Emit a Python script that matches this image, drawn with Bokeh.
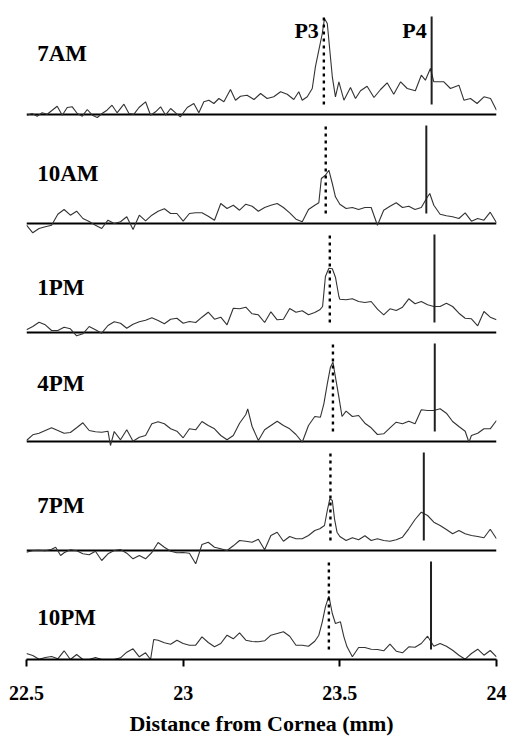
from bokeh.plotting import figure
from bokeh.models import ColumnDataSource, FixedTicker, NumeralTickFormatter, Range1d
from bokeh.core.properties import value
from bokeh.embed import file_html
from bokeh.resources import INLINE

# ---------------- data ----------------
TIMES = ["7AM", "10AM", "1PM", "4PM", "7PM", "10PM"]
P3_POS = [23.449, 23.455, 23.468, 23.478, 23.470, 23.465]
P4_POS = [23.793, 23.776, 23.802, 23.803, 23.768, 23.791]
PEAK_NAMES = ["P3", "P4"]
X_TICKS = [22.5, 23.0, 23.5, 24.0]

X_7AM = [22.502, 22.518, 22.534, 22.550, 22.566, 22.582, 22.598, 22.614, 22.630, 22.646,
         22.662, 22.678, 22.694, 22.710, 22.726, 22.741, 22.757, 22.773, 22.789, 22.811,
         22.827, 22.843, 22.859, 22.880, 22.896, 22.912, 22.928, 22.944, 22.960, 22.976,
         22.991, 23.013, 23.034, 23.050, 23.066, 23.082, 23.098, 23.114, 23.130, 23.151,
         23.167, 23.183, 23.204, 23.226, 23.247, 23.268, 23.289, 23.311, 23.332, 23.353,
         23.369, 23.380, 23.396, 23.412, 23.422, 23.433, 23.444, 23.451, 23.460, 23.468,
         23.476, 23.486, 23.497, 23.513, 23.534, 23.550, 23.566, 23.587, 23.609, 23.630,
         23.651, 23.672, 23.694, 23.715, 23.741, 23.760, 23.773, 23.789, 23.800, 23.832,
         23.853, 23.880, 23.896, 23.917, 23.938, 23.960, 23.981, 24.000]
Y_7AM = [-0.7, 1, -1.7, 1.7, 0.3, 4.3, 8.3, -0.7, 7, 7.7,
         1, -1.7, 5, -0.7, -3, 1, 4.3, 9.3, 1.7, 10.3,
         1, 0.3, 7, 12.7, -0.7, 2.7, 7.7, -0.7, 6, 1.7,
         -2.3, 7, 11, 1.7, 12.7, 14.3, 11, 16, 12.7, 25,
         14.3, 18.3, 19.3, 15, 21, 16, 17.7, 22.7, 20.3, 15,
         22.7, 14.3, 17.7, 26, 47.7, 64.3, 81, 96, 91, 64.3,
         37.7, 17.7, 32.7, 14.3, 27, 16, 23.7, 28.3, 17, 25,
         31.7, 20.3, 32.7, 26, 23.7, 39.3, 34.3, 46, 32.7, 32.7,
         26, 29.3, 14.3, 16, 11, 17.7, 16, 4.3]

X_10AM = [22.50, 22.52, 22.54, 22.56, 22.58, 22.60, 22.62, 22.64, 22.66, 22.68,
          22.70, 22.72, 22.74, 22.76, 22.78, 22.80, 22.82, 22.84, 22.86, 22.88,
          22.90, 22.92, 22.94, 22.96, 22.98, 23.00, 23.02, 23.04, 23.06, 23.08,
          23.10, 23.12, 23.14, 23.16, 23.18, 23.20, 23.22, 23.24, 23.26, 23.28,
          23.30, 23.32, 23.34, 23.36, 23.38, 23.40, 23.42,
          23.433, 23.441, 23.454, 23.465, 23.476, 23.486,
          23.50, 23.52, 23.54, 23.56, 23.58, 23.60, 23.62, 23.64, 23.66, 23.68,
          23.70, 23.72, 23.74, 23.76, 23.78, 23.787,
          23.80, 23.82, 23.84, 23.86, 23.88, 23.90, 23.92, 23.94, 23.96, 23.98, 24.00]
Y_10AM = [-1.7, -9.3, -5, -3.3, -1.7, 9.3, 14, 8.3, 12.3, 5,
          2, -1.7, -5, 3.3, 0, 1.7, 6.7, -6, 8.3, 2.7,
          8.3, 12.3, 14.7, 10, 10, 2.3, 10, 10.7, 10.7, 7.3,
          3.3, 20, 15, 18.3, 13.3, 19.3, 17.3, 12.3, 16, 18.3,
          20, 16, 10.7, 4.3, 1.7, 14, 18.3,
          20.7, 45, 48.3, 53.3, 40, 26.7,
          19.3, 15, 16, 14, 16, 16, -1.7, 13.3, 17.3, 20.7,
          16, 17.3, 14, 16, 26.7, 30,
          18.3, 9.3, 7.7, 6.7, 5, 10.7, 2.3, 5, 3.3, 11.3, 0.7]

X_1PM = [22.50, 22.52, 22.54, 22.56, 22.58, 22.60, 22.62, 22.64, 22.66, 22.68,
         22.70, 22.72, 22.74, 22.76, 22.78, 22.80, 22.82, 22.84, 22.86, 22.88,
         22.90, 22.92, 22.94, 22.96, 22.98, 23.00, 23.02, 23.04, 23.06, 23.08,
         23.10, 23.12, 23.14, 23.16, 23.18, 23.20, 23.22, 23.24, 23.26, 23.28,
         23.30, 23.32, 23.34, 23.36, 23.38, 23.40, 23.42,
         23.436, 23.445, 23.454, 23.465, 23.476, 23.486, 23.497,
         23.50, 23.52, 23.54, 23.56, 23.58, 23.60, 23.62, 23.64, 23.66, 23.68,
         23.70, 23.72, 23.74, 23.76, 23.78, 23.80, 23.82, 23.84, 23.86, 23.88,
         23.90, 23.92, 23.94, 23.96, 23.98, 24.00]
Y_1PM = [2.7, 6, 10.3, 7.7, 2, 2, 5.3, 3.7, -3.3, -1.3,
         6, 2.7, -0.7, 7, 10.7, 9.3, 4.3, 8.3, 10.7, 12.3,
         14.7, 12, 8.7, 13.3, 14.3, 9.3, 11, 10, 15.3, 20.3,
         13.3, 15.3, 7.7, 24.3, 23.7, 25.3, 18.7, 17.7, 10, 20.7,
         12.7, 13.3, 24, 20.3, 21.7, 17.7, 20,
         22.7, 26, 56, 64.3, 63.7, 55.3, 36,
         33.3, 32.7, 33.7, 31, 30, 31, 23.3, 17.7, 23.7, 22,
         25.3, 33.7, 28.7, 31, 27.7, 26, 26, 29.3, 26, 19.3,
         14.3, 13.7, 6.7, 21, 15.3, 12.7]

X_4PM = [22.50, 22.52, 22.54, 22.56, 22.58, 22.60, 22.62, 22.64, 22.66, 22.68,
         22.70, 22.72, 22.74, 22.76, 22.768, 22.78, 22.80, 22.82, 22.84, 22.86,
         22.88, 22.90, 22.92, 22.94, 22.96, 22.98, 23.00, 23.02, 23.04, 23.06,
         23.08, 23.10, 23.12, 23.14, 23.16, 23.18, 23.20, 23.206, 23.22, 23.24,
         23.26, 23.28, 23.30, 23.32, 23.34, 23.36, 23.38, 23.40, 23.42,
         23.438, 23.449, 23.460, 23.470, 23.478, 23.486, 23.497, 23.507,
         23.52, 23.54, 23.56, 23.58, 23.60, 23.62, 23.64, 23.66, 23.68, 23.70,
         23.72, 23.74, 23.76, 23.78, 23.80, 23.82, 23.84, 23.86, 23.88, 23.90,
         23.912, 23.92, 23.94, 23.96, 23.98, 24.00]
Y_4PM = [1, 6.7, 8.3, 11, 13.7, 11, 8.3, 9, 13.7, 18.7,
         11, 9.7, 9.3, 10.3, -4, 10, 1.7, 11.7, 0.3, 4.3,
         6, 17.7, 19.7, 17.7, 12.7, 10.3, 3.7, 12.7, 11.7, 20,
         16, 12.7, 6, 1.7, 6, 18.3, 27, 32.7, 15, 1,
         11.7, 16, 20.3, 16, 12.7, 7, -0.7, 16, 25,
         24.3, 37.7, 57.7, 74.3, 79.3, 64.3, 44.3, 25,
         30.3, 25, 26, 18.3, 13.7, 7, 7.7, 13.7, 19.3, 17.7,
         20.3, 17.7, 31.7, 31, 31, 32.7, 28.3, 20, 15, 10.3,
         -0.7, 6, 8.3, 12.7, 12.7, 21]

X_7PM = [22.50, 22.52, 22.54, 22.56, 22.58, 22.593, 22.609, 22.62, 22.64, 22.66,
         22.68, 22.70, 22.72, 22.74, 22.76, 22.78, 22.80, 22.82, 22.84, 22.86,
         22.88, 22.90, 22.92, 22.94, 22.96, 22.98, 23.00, 23.02, 23.04, 23.06,
         23.08, 23.10, 23.12, 23.14, 23.16, 23.18, 23.20, 23.22, 23.24, 23.26,
         23.28, 23.30, 23.32, 23.34, 23.36, 23.38, 23.40, 23.42,
         23.436, 23.451, 23.460, 23.468, 23.476, 23.483, 23.491,
         23.50, 23.52, 23.54, 23.56, 23.58, 23.60, 23.62, 23.64, 23.66, 23.68,
         23.70, 23.72, 23.74, 23.76, 23.78, 23.80, 23.82, 23.84, 23.86, 23.88,
         23.90, 23.92, 23.94, 23.96, 23.98, 24.00]
Y_7PM = [-1.7, 0, 0.3, -0.3, 1.3, 3.3, -5, -2.3, 0.7, -0.3,
         -3.3, -4.3, -0.7, -10, -3.3, 0, 1, -2.7, -8.3, -5,
         -8.3, -2, 8, 3.3, -0.7, -2.3, -2, -2.7, -13.3, 6,
         8.3, 3.3, 1.7, 0, 4.7, 10, 9.3, 8.3, 11.3, 0.7,
         15, 18.3, 9.3, 14, 11.7, 11.7, 15, 20,
         21.7, 25, 40, 51.7, 50, 31.7, 18.3,
         14, 10, 12.7, 10.7, 14.7, 10, 11.7, 10, 9.3, 10.7,
         13.3, 21.7, 31, 38.3, 35, 28.3, 25, 21, 16.7, 20,
         16.7, 15, 14, 12.7, 21.3, 11.7]

X_10PM = [22.50, 22.52, 22.54, 22.56, 22.58, 22.60, 22.62, 22.64, 22.66, 22.68,
          22.70, 22.72, 22.74, 22.76, 22.78, 22.80, 22.82, 22.84, 22.86, 22.88,
          22.896, 22.906, 22.92, 22.94, 22.96, 22.98, 23.00, 23.02, 23.04, 23.06,
          23.08, 23.10, 23.12, 23.14, 23.16, 23.18, 23.20, 23.22, 23.24, 23.26,
          23.28, 23.30, 23.32, 23.34, 23.36, 23.38, 23.40, 23.42,
          23.433, 23.444, 23.454, 23.465, 23.476, 23.486, 23.502, 23.513, 23.523,
          23.54, 23.56, 23.58, 23.60, 23.62, 23.64, 23.66, 23.68, 23.70, 23.72,
          23.74, 23.76, 23.78, 23.80, 23.82, 23.84, 23.86, 23.88, 23.90, 23.92,
          23.94, 23.96, 23.98, 24.00]
Y_10PM = [6, 4, 0.3, 2, 3, 0.7, 8.7, 0, 5, 0,
          0, 2, 0, 0, 0, 1.7, 7.3, 10.7, 2.7, 6.7,
          0, 20, 19.3, 16.7, 15.3, 19.3, 16, 14.3, 14.3, 22.7,
          17, 12.7, 16, 24.3, 20.7, 26.7, 19.3, 18, 17.7, 18.7,
          24.3, 26, 27.7, 23.3, 14.3, 14.3, 13.3, 18.3,
          24.3, 37.7, 52.7, 63.3, 46, 36, 37.7, 22.7, 12.7,
          2.7, 12, 12, 10.3, 10, 8.7, 15.3, 8.3, 6.7, 12.7,
          12.3, 16, 23.3, 13.3, 16, 13.3, 9.3, 4.3, 0.3, 6,
          10.3, 4.3, 9, 2.7]

TRACES_X = [X_7AM, X_10AM, X_1PM, X_4PM, X_7PM, X_10PM]
TRACES_Y = [Y_7AM, Y_10AM, Y_1PM, Y_4PM, Y_7PM, Y_10PM]

# ---------------- layout / style ----------------
STEP = 109.0                 # vertical spacing between stacked panels
LABEL_RAISE = [61, 50, 45, 58, 45, 42]
LINE_BOTTOM, LINE_TOP = 10, 98
PEAK_LABEL_RAISE = 84.5
FONT = value("Liberation Serif")
N = len(TIMES)
offsets = [(N - 1 - k) * STEP for k in range(N)]

p = figure(frame_width=470, frame_height=650, output_backend="svg",
           toolbar_location=None, x_range=Range1d(22.5, 24.0),
           y_range=Range1d(0, 650), min_border_left=26, min_border_right=17,
           min_border_top=9, min_border_bottom=82)
p.background_fill_color = "white"
p.border_fill_color = "white"
p.outline_line_color = None
p.xgrid.visible = False
p.ygrid.visible = False
p.yaxis.visible = False

# baselines of upper panels
base_src = ColumnDataSource(dict(
    x0=[X_TICKS[0]] * (N - 1), x1=[X_TICKS[-1]] * (N - 1),
    y=[offsets[k] for k in range(N - 1)]))
p.segment(x0="x0", y0="y", x1="x1", y1="y", source=base_src,
          line_color="black", line_width=2)

# traces
for k in range(N):
    ys = [v + offsets[k] for v in TRACES_Y[k]]
    p.line(TRACES_X[k], ys, line_color="#333333", line_width=1.1)

# peak marker lines
p3_src = ColumnDataSource(dict(x=P3_POS, y0=[o + LINE_BOTTOM for o in offsets],
                               y1=[o + LINE_TOP for o in offsets]))
p.segment(x0="x", y0="y0", x1="x", y1="y1", source=p3_src,
          line_color="black", line_width=2.4, line_dash="3 4")
p4_src = ColumnDataSource(dict(x=P4_POS, y0=[o + LINE_BOTTOM for o in offsets],
                               y1=[o + LINE_TOP for o in offsets]))
p.segment(x0="x", y0="y0", x1="x", y1="y1", source=p4_src,
          line_color="#202020", line_width=2)

# time labels
lab_src = ColumnDataSource(dict(x=[22.534] * N,
                                y=[offsets[k] + LABEL_RAISE[k] for k in range(N)],
                                t=TIMES))
p.text(x="x", y="y", text="t", source=lab_src, text_font=FONT,
       text_font_style="bold", text_font_size="23px", text_color="black",
       text_align="left", text_baseline="alphabetic")

# P3 / P4 labels
pk_src = ColumnDataSource(dict(x=[P3_POS[0], P4_POS[0]],
                               y=[offsets[0] + PEAK_LABEL_RAISE] * 2,
                               t=PEAK_NAMES))
p.text(x="x", y="y", text="t", source=pk_src, text_font=FONT,
       text_font_style="bold", text_font_size="22px", text_color="black",
       text_align="right", text_baseline="alphabetic", x_offset=-5)

# x axis
ax = p.xaxis[0]
ax.ticker = FixedTicker(ticks=X_TICKS)
ax.formatter = NumeralTickFormatter(format="0.[0]")
ax.axis_label = "Distance from Cornea (mm)"
ax.axis_line_width = 2
ax.axis_line_color = "black"
ax.major_tick_line_width = 2
ax.major_tick_line_color = "black"
ax.major_tick_in = 0
ax.major_tick_out = 7
ax.minor_tick_line_color = None
ax.major_label_standoff = 19
ax.major_label_text_font = "Liberation Serif"
ax.major_label_text_font_style = "bold"
ax.major_label_text_font_size = "20px"
ax.major_label_text_color = "black"
ax.axis_label_standoff = 8
ax.axis_label_text_font = "Liberation Serif"
ax.axis_label_text_font_style = "bold"
ax.axis_label_text_font_size = "22px"
ax.axis_label_text_color = "black"

open("out.html", "w").write(file_html(p, INLINE))
